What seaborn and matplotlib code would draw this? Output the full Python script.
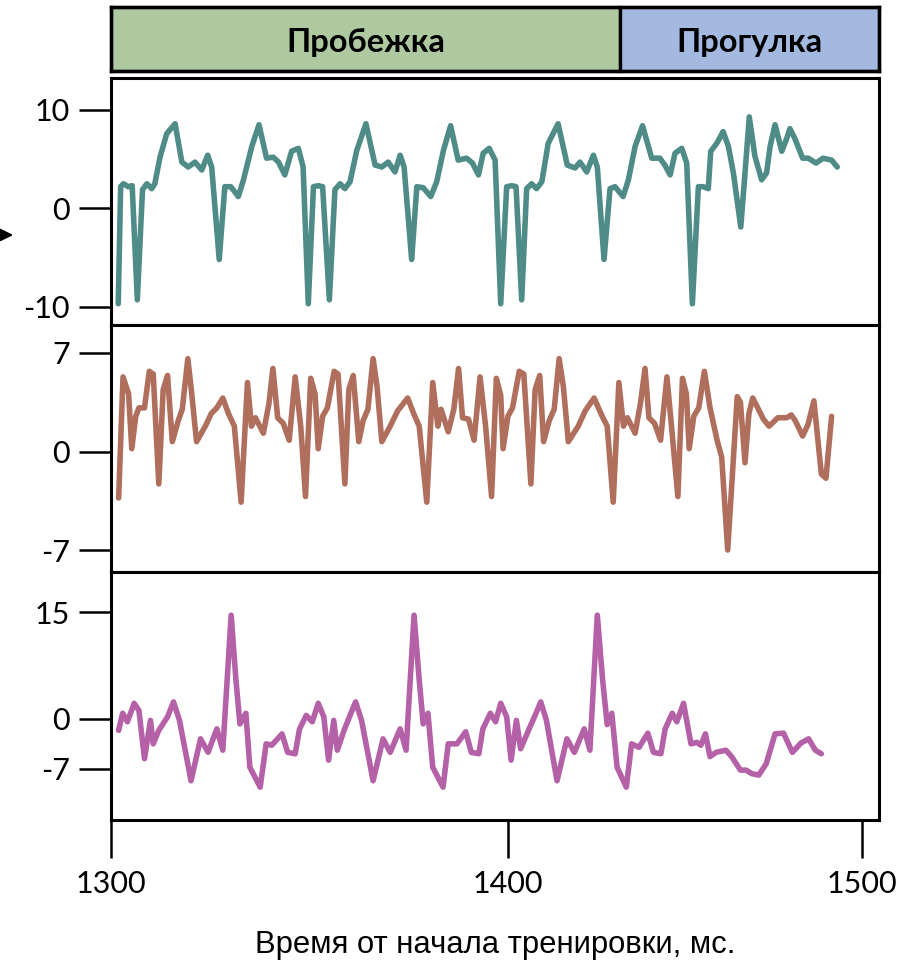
import numpy as np
import matplotlib
matplotlib.use("Agg")
import matplotlib.pyplot as plt
from matplotlib.patches import Polygon
import seaborn as sns

# ---------------- data ----------------
time_x = [1301.9, 1302.5, 1303.2, 1304.4, 1305.4, 1306.7, 1308.0, 1309.1, 1310.3, 1311.1,
          1312.4, 1314.1, 1316.2, 1317.9, 1319.5, 1321.2, 1322.9, 1324.4, 1325.4, 1327.3,
          1328.7, 1330.2, 1332.1, 1333.4, 1335.5, 1337.3, 1339.2, 1340.9, 1342.2, 1343.8,
          1345.5, 1347.2, 1348.4, 1349.7, 1351.0, 1352.2, 1353.3, 1355.0, 1356.4, 1357.7,
          1358.9, 1360.2, 1361.9, 1364.2, 1366.5, 1368.2, 1369.8, 1371.5, 1372.8, 1373.8,
          1375.7, 1377.0, 1378.6, 1380.5, 1382.0, 1383.7, 1385.5, 1387.4, 1389.5, 1391.0,
          1392.5, 1393.7, 1395.2, 1396.7, 1398.1, 1399.6, 1401.0, 1402.2, 1403.8, 1405.2,
          1406.6, 1408.0, 1409.5, 1411.3, 1414.1, 1416.7, 1418.9, 1420.3, 1422.2, 1424.1,
          1425.2, 1427.1, 1428.8, 1430.2, 1432.5, 1434.0, 1435.9, 1438.0, 1440.6, 1442.9,
          1444.3, 1445.8, 1447.2, 1449.1, 1450.5, 1452.1, 1453.8, 1455.2, 1456.6, 1457.3,
          1459.0, 1460.8, 1462.3, 1463.7, 1465.8, 1467.0, 1468.2, 1469.8, 1471.7, 1473.1,
          1474.1, 1475.5, 1477.4, 1478.8, 1479.7, 1481.1, 1483.3, 1484.9, 1487.1, 1489.1,
          1491.5, 1493.1]
acc_x = [-9.7, 2.2, 2.5, 2.2, 2.3, -9.3, 1.9, 2.5, 2.0, 2.5,
         5.2, 7.6, 8.6, 4.7, 4.2, 4.7, 3.9, 5.4, 4.2, -5.2,
         2.2, 2.2, 1.2, 2.9, 6.3, 8.5, 5.1, 5.2, 4.7, 3.4,
         5.8, 6.1, 4.2, -9.7, 2.2, 2.3, 2.2, -9.3, 1.9, 2.5,
         2.0, 2.7, 5.9, 8.6, 4.4, 4.2, 4.7, 3.7, 5.4, 4.2,
         -5.2, 2.2, 2.1, 1.2, 2.7, 5.9, 8.4, 4.9, 5.1, 4.6,
         3.4, 5.6, 6.1, 4.9, -9.7, 2.2, 2.3, 2.2, -9.3, 2.0,
         2.5, 2.0, 2.7, 6.6, 8.6, 4.4, 4.1, 4.7, 3.7, 5.4,
         4.2, -5.2, 2.0, 2.2, 1.2, 2.9, 6.3, 8.4, 5.1, 5.1,
         4.4, 3.4, 5.6, 6.1, 4.6, -9.7, 2.2, 2.2, 2.0, 5.8,
         6.6, 7.8, 6.3, 3.6, -1.9, 3.6, 9.3, 5.3, 2.9, 3.6,
         6.3, 8.5, 5.8, 7.1, 8.1, 7.1, 5.1, 5.1, 4.6, 5.1,
         4.9, 4.2]

time_y = [1302.0, 1303.1, 1304.5, 1305.3, 1306.3, 1307.1, 1308.5, 1309.7, 1310.7, 1312.1,
          1313.2, 1314.3, 1315.5, 1317.0, 1318.0, 1319.4, 1320.2, 1321.6, 1323.8, 1325.3,
          1326.7, 1328.2, 1329.6, 1331.1, 1332.8, 1334.4, 1335.4, 1336.4, 1338.4, 1339.8,
          1340.8, 1342.0, 1343.4, 1344.9, 1346.4, 1347.8, 1349.0, 1350.3, 1351.4, 1352.2,
          1353.3, 1354.5, 1356.2, 1357.2, 1358.9, 1359.9, 1361.0, 1362.4, 1363.5, 1364.7,
          1366.0, 1367.0, 1368.2, 1370.3, 1372.2, 1374.7, 1376.2, 1377.6, 1379.5, 1381.0,
          1382.3, 1383.1, 1384.9, 1386.3, 1387.5, 1388.5, 1390.0, 1391.4, 1392.9, 1394.3,
          1395.8, 1397.0, 1398.1, 1398.7, 1399.9, 1401.2, 1403.1, 1404.4, 1406.4, 1407.6,
          1408.9, 1410.0, 1411.6, 1413.0, 1414.4, 1415.6, 1417.0, 1419.8, 1421.8, 1424.3,
          1426.4, 1428.0, 1429.7, 1431.3, 1432.6, 1433.7, 1435.9, 1437.4, 1438.7, 1439.8,
          1441.4, 1443.1, 1444.9, 1446.3, 1448.0, 1449.3, 1450.4, 1451.2, 1452.5, 1453.9,
          1455.5, 1457.1, 1459.1, 1460.4, 1462.1, 1464.8, 1465.7, 1467.0, 1468.1, 1469.2,
          1470.6, 1472.2, 1473.8, 1476.3, 1478.8, 1480.1, 1481.2, 1483.3, 1484.8, 1486.5,
          1488.6, 1489.9, 1491.5]
acc_y = [-3.3, 5.3, 4.1, 0.2, 2.5, 3.1, 3.1, 5.7, 5.5, -2.3,
         4.4, 5.4, 0.7, 2.2, 3.0, 6.6, 4.6, 0.7, 1.8, 2.7,
         3.1, 3.8, 2.7, 1.8, -3.6, 4.9, 1.8, 2.4, 1.3, 3.4,
         5.9, 2.4, 2.0, 0.8, 5.3, 1.8, -3.2, 5.2, 4.1, 0.2,
         2.5, 3.1, 5.7, 5.5, -2.3, 4.4, 5.4, 0.7, 2.2, 3.0,
         6.6, 4.6, 0.7, 1.8, 2.9, 3.8, 2.7, 1.8, -3.6, 4.9,
         1.8, 3.0, 1.4, 3.0, 5.9, 2.4, 2.3, 0.8, 5.3, 1.8,
         -3.2, 5.2, 4.0, 0.2, 2.5, 3.1, 5.7, 5.5, -2.3, 4.4,
         5.4, 0.7, 2.2, 3.0, 6.6, 4.6, 0.7, 1.8, 2.9, 3.8,
         2.6, 1.8, -3.6, 4.9, 1.8, 2.4, 1.3, 3.4, 5.9, 2.4,
         2.0, 0.8, 5.3, 1.5, -3.2, 5.2, 4.1, 0.2, 2.5, 3.1,
         5.7, 3.1, 0.8, -0.4, -7.0, 3.9, 3.5, -0.8, 2.7, 3.8,
         3.1, 2.3, 1.8, 2.4, 2.4, 2.6, 2.2, 1.1, 1.9, 3.6,
         -1.6, -1.9, 2.5]

time_z = [1302.0, 1303.0, 1304.2, 1305.9, 1307.1, 1308.5, 1310.0, 1310.7, 1312.1, 1314.3,
          1315.8, 1317.3, 1320.2, 1322.6, 1324.5, 1326.7, 1328.2, 1330.3, 1331.5, 1332.5,
          1334.0, 1335.0, 1337.6, 1339.1, 1340.5, 1343.1, 1344.5, 1346.4, 1347.5, 1349.2,
          1350.7, 1352.2, 1353.6, 1354.8, 1356.1, 1357.0, 1358.7, 1360.2, 1361.6, 1363.1,
          1366.0, 1368.5, 1370.3, 1372.8, 1374.3, 1376.3, 1377.6, 1378.6, 1379.8, 1381.0,
          1383.6, 1384.9, 1387.1, 1389.3, 1390.7, 1392.6, 1393.6, 1395.5, 1396.8, 1398.1,
          1399.6, 1400.8, 1402.3, 1403.5, 1405.9, 1407.6, 1409.2, 1410.8, 1413.8, 1416.6,
          1418.7, 1421.5, 1423.1, 1425.2, 1426.7, 1428.0, 1429.3, 1430.8, 1433.4, 1434.9,
          1437.0, 1439.5, 1441.1, 1443.2, 1444.4, 1446.4, 1447.7, 1449.6, 1451.7, 1453.4,
          1454.5, 1455.8, 1457.1, 1458.8, 1461.6, 1463.2, 1465.7, 1467.3, 1468.9, 1470.9,
          1473.0, 1475.5, 1477.9, 1480.4, 1482.8, 1485.0, 1486.9, 1488.6]
acc_z = [-1.6, 0.8, -0.4, 2.2, 1.2, -5.6, -0.2, -3.5, -1.6, 0.3,
         2.4, -0.2, -8.7, -2.8, -4.7, -1.4, -4.4, 14.6, 5.5, -0.7,
         0.8, -6.8, -9.6, -3.5, -3.7, -2.1, -4.7, -4.9, -1.4, 0.5,
         -0.4, 2.2, 0.3, -5.8, -0.2, -4.4, -1.6, 0.5, 2.4, -0.2,
         -8.7, -2.8, -4.7, -1.4, -4.4, 14.6, 5.5, -0.7, 0.8, -6.8,
         -9.6, -3.5, -3.5, -1.8, -4.7, -4.9, -1.4, 0.8, -0.4, 2.2,
         0.3, -5.8, -0.2, -4.2, -1.4, 0.5, 2.4, -0.2, -8.7, -2.8,
         -4.7, -1.4, -4.4, 14.6, 5.5, -0.8, 0.8, -6.8, -9.6, -3.5,
         -4.0, -2.0, -4.7, -4.9, -1.4, 0.8, -0.4, 2.2, -3.5, -3.3,
         -3.7, -2.1, -5.3, -4.7, -4.4, -5.3, -7.2, -7.2, -7.7, -7.9,
         -6.3, -2.1, -2.0, -4.7, -3.4, -2.8, -4.4, -4.9]

phase_names = ["Пробежка", "Прогулка"]
phase_start = [1300.0, 1431.6]
phase_end = [1431.6, 1505.0]

x_ticks = [1300, 1400, 1500]
x_tick_labels = ["1300", "1400", "1500"]
x_label = "Время от начала тренировки, мс."

panel_yticks = [[10, 0, -10], [7, 0, -7], [15, 0, -7]]
panel_ytick_labels = [["10", "0", "-10"], ["7", "0", "-7"], ["15", "0", "-7"]]

# ---------------- style ----------------
phase_colors = ["#aec89f", "#a3b9e0"]
line_colors = ["#4f8c88", "#b06e5d", "#b561a7"]
panel_ylims = [(-11.83, 13.25), (-8.54, 9.01), (-14.15, 20.68)]
x_limits = (1300, 1505)

# the reference time axis has uneven spacing between its ticks
scale_t = [1200.0, 1300.0, 1400.0, 1500.0, 1600.0]
scale_u = [-397.6, 0.0, 397.6, 751.0, 1104.4]


def fwd(x):
    return np.interp(np.asarray(x, dtype=float), scale_t, scale_u)


def inv(u):
    return np.interp(np.asarray(u, dtype=float), scale_u, scale_t)


sns.set_theme(style="white")
plt.rcParams["font.family"] = ["Lato", "DejaVu Sans"]

W, H = 907, 965
fig = plt.figure(figsize=(W / 100, H / 100), dpi=100)


def px_axes(left, top, right, bottom):
    return fig.add_axes([left / W, 1 - bottom / H, (right - left) / W, (bottom - top) / H])


L, R = 110.7, 879.3
ax_head = px_axes(L, 6.7, R, 70.5)
ax1 = px_axes(L, 78.0, R, 324.7)
ax2 = px_axes(L, 324.7, R, 571.7)
ax3 = px_axes(L, 572.0, R, 819.5)
panels = [ax1, ax2, ax3]

# header with phases
ax_head.set_xscale("function", functions=(fwd, inv))
ax_head.set_xlim(*x_limits)
ax_head.set_ylim(0, 1)
for name, s, e, c in zip(phase_names, phase_start, phase_end, phase_colors):
    ax_head.barh(0.5, e - s, left=s, height=1.0, color=c, edgecolor="black",
                 linewidth=2.4, clip_on=False)
    xc = float(inv((fwd(s) + fwd(e)) / 2))
    ax_head.text(xc, 0.29, name, ha="center", va="baseline", fontsize=23.5,
                 fontweight="bold", color="black",
                 family=["Lato", "DejaVu Sans"])
ax_head.set_xticks([])
ax_head.set_yticks([])
for sp in ax_head.spines.values():
    sp.set_visible(True)
    sp.set_color("black")
    sp.set_linewidth(2.4)

series = [(time_x, acc_x), (time_y, acc_y), (time_z, acc_z)]
for i, (ax, (t, v), col) in enumerate(zip(panels, series, line_colors)):
    ax.set_xscale("function", functions=(fwd, inv))
    sns.lineplot(x=t, y=v, ax=ax, color=col, linewidth=4.0, estimator=None,
                 sort=False, solid_joinstyle="round", solid_capstyle="round")
    ax.set_xlim(*x_limits)
    ax.set_ylim(*panel_ylims[i])
    ax.set_yticks(panel_yticks[i])
    ax.set_yticklabels(panel_ytick_labels[i])
    ax.set_ylabel("")
    ax.set_xlabel("")
    ax.set_facecolor("white")
    for sp in ax.spines.values():
        sp.set_visible(True)
        sp.set_color("black")
        sp.set_linewidth(2.2)
    ax.tick_params(axis="y", which="major", left=True, direction="out",
                   length=23, width=1.8, color="black", pad=6.5,
                   labelsize=22, labelcolor="black")
    if ax is ax3:
        ax.set_xticks(x_ticks)
        ax.set_xticklabels(x_tick_labels)
        ax.minorticks_off()
        ax.tick_params(axis="x", which="major", bottom=True, direction="out",
                       length=27.4, width=1.8, color="black", pad=9,
                       labelsize=22, labelcolor="black")
    else:
        ax.set_xticks([])
        ax.minorticks_off()

ax3.set_xlabel(x_label, fontsize=22.3, va="baseline", color="black",
               family=["Liberation Sans", "DejaVu Sans"])
ax3.xaxis.set_label_coords(0.5, -0.5406)

# small pointer triangle at the left edge
fig.add_artist(Polygon([[0, 1 - 229.3 / H], [11.7 / W, 1 - 235 / H], [0, 1 - 240.7 / H]],
                       closed=True, transform=fig.transFigure, color="black"))

fig.savefig("out.png", dpi=100, facecolor="white")
